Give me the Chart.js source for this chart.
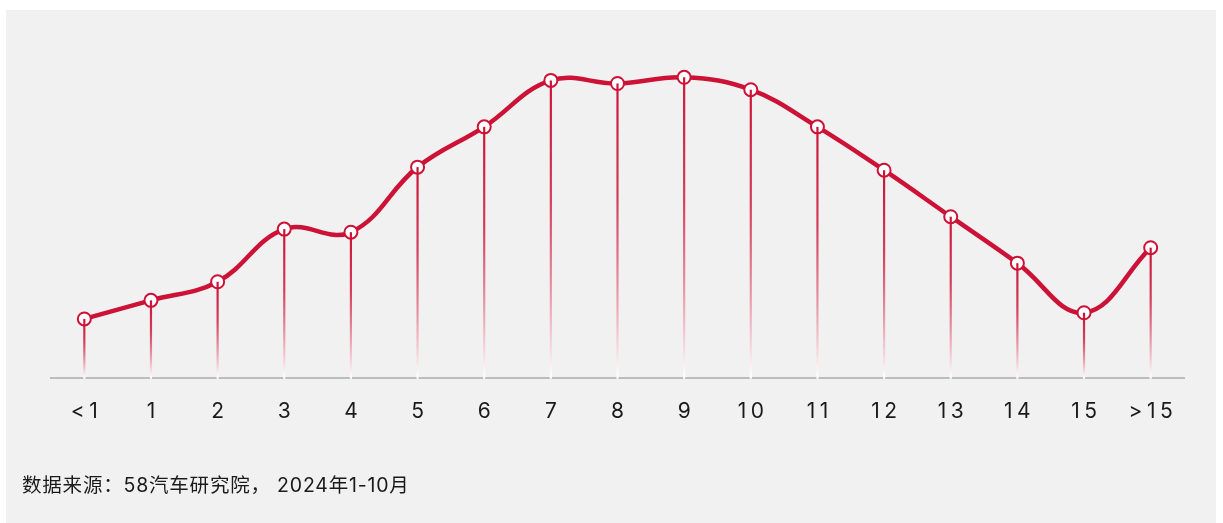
<!DOCTYPE html>
<html>
<head>
<meta charset="utf-8">
<script src="https://cdn.jsdelivr.net/npm/chart.js@4"></script>
<style>
  html, body { margin: 0; padding: 0; background: #ffffff; }
  #wrap { position: relative; width: 1223px; height: 523px; }
</style>
</head>
<body>
<div id="wrap"><canvas id="c"></canvas></div>
<script>
// Data (vehicle age distribution, share in %)
const categories = ['<1', '1', '2', '3', '4', '5', '6', '7', '8', '9', '10', '11', '12', '13', '14', '15', '>15'];
const shareValues = [1.9, 2.5, 3.1, 4.8, 4.7, 6.8, 8.1, 9.6, 9.5, 9.7, 9.3, 8.1, 6.7, 5.2, 3.7, 2.1, 4.2];
const sourceNote = '数据来源：58汽车研究院， 2024年1-10月';

const RED = '#cc1236';

const panelPlugin = {
  id: 'panel',
  beforeDraw(chart) {
    const ctx = chart.ctx;
    ctx.save();
    ctx.fillStyle = '#f1f1f1';
    ctx.fillRect(6, 10, 1210, 513);
    ctx.restore();
    ctx.letterSpacing = '4.5px';
  },
  afterDraw(chart) {
    const ctx = chart.ctx;
    ctx.letterSpacing = '0.8px';
    ctx.save();
    ctx.fillStyle = '#1a1a1a';
    ctx.font = '19.5px Inter, "Noto Sans CJK SC", sans-serif';
    ctx.textBaseline = 'middle';
    ctx.textAlign = 'left';
    ctx.fillText(sourceNote, 22, 486);
    ctx.restore();
    ctx.letterSpacing = '0px';
  }
};

const dropLinePlugin = {
  id: 'dropLines',
  afterDatasetsDraw(chart) {
    const ctx = chart.ctx;
    const meta = chart.getDatasetMeta(0);
    const bottom = chart.chartArea.bottom;
    ctx.save();
    meta.data.forEach(pt => {
      const g = ctx.createLinearGradient(0, pt.y, 0, bottom);
      g.addColorStop(0, 'rgba(204,18,54,1)');
      g.addColorStop(0.4, 'rgba(204,18,54,0.8)');
      g.addColorStop(1, 'rgba(255,255,255,0.95)');
      ctx.strokeStyle = g;
      ctx.lineWidth = 2.2;
      ctx.lineCap = 'butt';
      ctx.beginPath();
      ctx.moveTo(pt.x, pt.y);
      ctx.lineTo(pt.x, bottom + 1);
      ctx.stroke();
    });
    ctx.restore();
  }
};

new Chart(document.getElementById('c'), {
  type: 'line',
  data: {
    labels: categories,
    datasets: [{
      data: shareValues,
      borderColor: RED,
      borderWidth: 4.5,
      tension: 0.4,
      fill: false,
      pointRadius: 6.5,
      pointBorderWidth: 2,
      pointBackgroundColor: '#ffffff',
      pointBorderColor: RED,
      clip: false
    }]
  },
  options: {
    responsive: true,
    maintainAspectRatio: false,
    animation: false,
    layout: { padding: { left: 51, right: 39, top: 68, bottom: 78 } },
    plugins: { legend: { display: false }, tooltip: { enabled: false } },
    scales: {
      x: {
        offset: true,
        grid: { display: false, drawTicks: false },
        border: { display: true, color: '#bdbdbd', width: 2 },
        ticks: {
          color: '#1a1a1a',
          padding: 21,
          labelOffset: 2.25,
          maxRotation: 0,
          autoSkip: false,
          font: { size: 21, family: 'Inter, "Noto Sans", sans-serif' }
        }
      },
      y: {
        display: false,
        min: 0,
        max: 10
      }
    }
  },
  plugins: [panelPlugin, dropLinePlugin]
});
</script>
</body>
</html>
